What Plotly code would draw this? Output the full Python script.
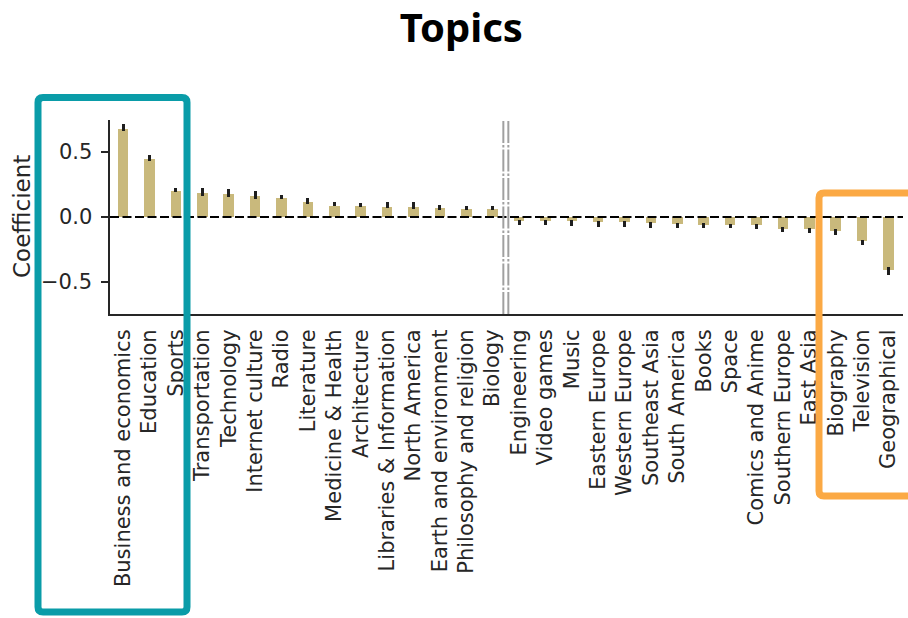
import plotly.graph_objects as go

categories = [
    "Business and economics", "Education", "Sports", "Transportation", "Technology",
    "Internet culture", "Radio", "Literature", "Medicine & Health", "Architecture",
    "Libraries & Information", "North America", "Earth and environment",
    "Philosophy and religion", "Biology", "Engineering", "Video games", "Music",
    "Eastern Europe", "Western Europe", "Southeast Asia", "South America", "Books",
    "Space", "Comics and Anime", "Southern Europe", "East Asia", "Biography",
    "Television", "Geographical",
]
coefficients = [
    0.679, 0.447, 0.201, 0.183, 0.178, 0.163, 0.147, 0.116, 0.088, 0.082,
    0.080, 0.074, 0.067, 0.062, 0.062, -0.029, -0.029, -0.034, -0.039, -0.042,
    -0.050, -0.054, -0.060, -0.062, -0.065, -0.090, -0.093, -0.106, -0.189, -0.410,
]
ci_low = [
    0.667, 0.434, 0.196, 0.163, 0.157, 0.142, 0.137, 0.103, 0.082, 0.075,
    0.070, 0.062, 0.057, 0.057, 0.057, -0.065, -0.065, -0.068, -0.075, -0.078,
    -0.083, -0.088, -0.088, -0.088, -0.096, -0.116, -0.124, -0.137, -0.220, -0.450,
]
ci_high = [
    0.718, 0.477, 0.227, 0.222, 0.219, 0.204, 0.173, 0.150, 0.113, 0.108,
    0.113, 0.116, 0.093, 0.088, 0.088, -0.021, -0.021, -0.025, -0.030, -0.033,
    -0.040, -0.045, -0.050, -0.052, -0.055, -0.080, -0.083, -0.095, -0.180, -0.390,
]
y_ticks = [-0.5, 0.0, 0.5]
y_tick_labels = ["\u22120.5", "0.0", "0.5"]
split_position = 14.5  # between Biology and Engineering

W, H = 908, 618
ML, MR, MT, MB = 110, 5, 120, 304
PW, PH = W - ML - MR, H - MT - MB

def px_x(px):
    return (px - ML) / PW

def px_y(py):
    return (H - MB - py) / PH

def rounded_rect(x0p, y0p, x1p, y1p, r=6):
    x0, x1 = px_x(x0p), px_x(x1p)
    yt, yb = px_y(y0p), px_y(y1p)
    rx, ry = r / PW, r / PH
    return (f"M {x0+rx},{yt} L {x1-rx},{yt} Q {x1},{yt} {x1},{yt-ry} "
            f"L {x1},{yb+ry} Q {x1},{yb} {x1-rx},{yb} L {x0+rx},{yb} "
            f"Q {x0},{yb} {x0},{yb+ry} L {x0},{yt-ry} Q {x0},{yt} {x0+rx},{yt} Z")

xs = list(range(len(categories)))
err_plus = [max(h - v, 0) for h, v in zip(ci_high, coefficients)]
err_minus = [max(v - l, 0) for l, v in zip(ci_low, coefficients)]

fig = go.Figure()
fig.add_trace(go.Bar(
    x=xs, y=coefficients, width=0.4,
    marker=dict(color="#c9b97c", line=dict(width=0)),
    error_y=dict(type="data", symmetric=False, array=err_plus, arrayminus=err_minus,
                 thickness=3, width=0, color="#1e1e1e"),
    showlegend=False,
))

shapes = []
shapes.append(dict(type="line", xref="paper", yref="y", x0=0, x1=1, y0=0, y1=0,
                   line=dict(color="black", width=2, dash="9px,3.5px"), layer="above"))
for off in (-2.5, 2.5):
    shapes.append(dict(type="line", xref="x", yref="paper", xsizemode="pixel",
                       xanchor=split_position, x0=off, x1=off, y0=0, y1=1,
                       line=dict(color="#a0a0a0", width=2, dash="22px,2px,2.5px,2px"),
                       layer="above"))
shapes.append(dict(type="path", xref="paper", yref="paper",
                   path=rounded_rect(38, 97.5, 187, 612, 5),
                   line=dict(color="#0a9ca8", width=7), fillcolor="rgba(0,0,0,0)", layer="above"))
shapes.append(dict(type="path", xref="paper", yref="paper",
                   path=rounded_rect(819, 193, 940, 496, 5),
                   line=dict(color="#fba944", width=7), fillcolor="rgba(0,0,0,0)", layer="above"))

# y tick labels as annotations (placed with a gap from the tick marks, as in the reference)
annotations = []
for t, lab in zip(y_ticks, y_tick_labels):
    annotations.append(dict(text=lab, xref="paper", yref="y", x=px_x(94), y=t,
                            xanchor="right", yanchor="middle", showarrow=False,
                            font=dict(family="DejaVu Sans", size=21, color="#262626")))
annotations.append(dict(text="Coefficient", xref="paper", yref="paper",
                        x=px_x(22), y=0.5, xanchor="center", yanchor="middle",
                        textangle=-90, showarrow=False,
                        font=dict(family="DejaVu Sans", size=23, color="#262626")))

fig.update_layout(
    width=W, height=H,
    margin=dict(l=ML, r=MR, t=MT, b=MB, autoexpand=False),
    paper_bgcolor="white", plot_bgcolor="white",
    font=dict(family="DejaVu Sans", size=21, color="#262626"),
    title=dict(text="<b>Topics</b>", x=0.508, xanchor="center", y=0.955, yanchor="middle",
               font=dict(family="Noto Sans", size=40, color="black")),
    shapes=shapes,
    annotations=annotations,
    bargap=0,
)
fig.update_xaxes(
    range=[-0.5, 29.55], tickmode="array", tickvals=xs, ticktext=categories,
    tickangle=-90, showgrid=False, zeroline=False, automargin=False,
    showline=True, linecolor="#262626", linewidth=2,
    ticks="outside", ticklen=5, tickcolor="rgba(0,0,0,0)",
    tickfont=dict(size=21),
)
fig.update_yaxes(
    range=[-0.75, 0.75], tickmode="array", tickvals=y_ticks, showticklabels=False,
    showgrid=False, zeroline=False, automargin=False,
    showline=True, linecolor="#262626", linewidth=2,
    ticks="outside", ticklen=7, tickwidth=1.5, tickcolor="#262626",
)

fig.write_html("out.html", config={"displayModeBar": False},
               post_script="document.body.style.margin='0';")
